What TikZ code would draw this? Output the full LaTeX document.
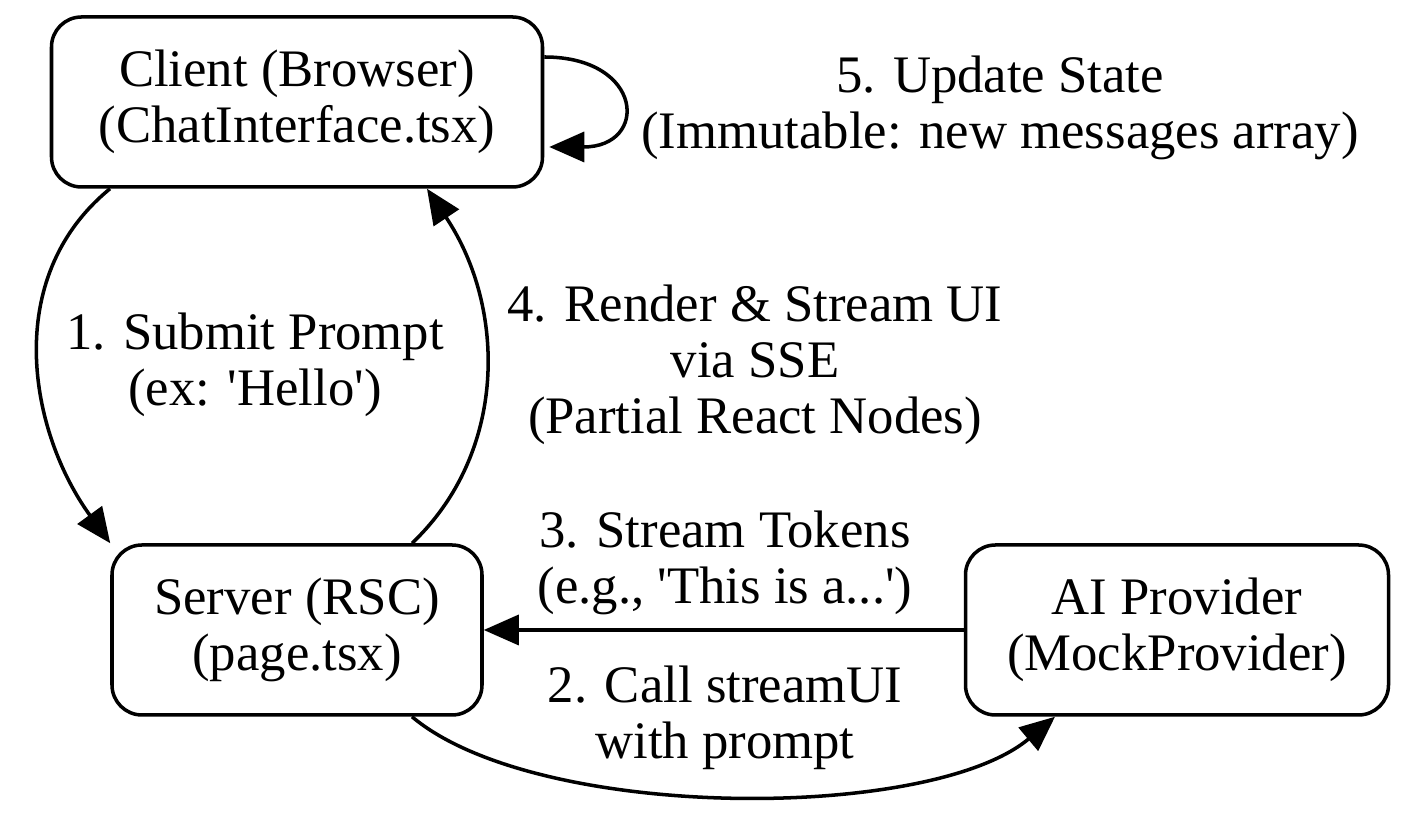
\documentclass[tikz,border=0pt]{standalone}
\usepackage{fontspec}
\setmainfont{Liberation Serif}
\usetikzlibrary{arrows.meta}
\begin{document}
\begin{tikzpicture}[
                            >={Triangle[length=0.7cm,width=0.6cm]},
                            every node/.style={font=\fontsize{30}{32}\selectfont,align=center},
                            box/.style={rectangle,draw,line width=2pt,rounded corners=0.6cm,minimum height=3.4cm},
                            link/.style={->,line width=2pt}
                        ]
                        \useasboundingbox (0,0) rectangle (28.34,16.26);
                        % Blocks
                        \node [box,minimum width=9.82cm] (client) at (5.94,14.22) {Client (Browser)\\(ChatInterface.tsx)};
                        \node [box,minimum width=7.4cm] (server) at (5.94,3.66) {Server (RSC)\\(page.tsx)};
                        \node [box,minimum width=8.46cm] (ai) at (23.54,3.66) {AI Provider\\(MockProvider)};

                        % Labels
                        \node (lab1) at (5.1,8.96) {1. Submit Prompt\\(ex: \textquotesingle Hello\textquotesingle)};
                        \node (lab2) at (14.5,1.9) {2. Call streamUI\\with prompt};
                        \node (lab3) at (14.5,5.0) {3. Stream Tokens\\(e.g., \textquotesingle This is a...\textquotesingle)};
                        \node (lab4) at (15.1,8.96) {4. Render \& Stream UI\\via SSE\\(Partial React Nodes)};
                        \node (lab5) at (20,14.1) {5. Update State\\(Immutable: new messages array)};

                        % Connections
                        \draw [link] ([xshift=-3.74cm]client.south) .. controls +(-2.2,-1.8) and +(-1.6,2.2) .. (server.north west);
                        \draw [link] ([xshift=2.3cm]server.south) .. controls +(2.5,-2.1) and +(-2.5,-2.1) .. ([xshift=-2.44cm]ai.south);
                        \draw [link] (ai.west) -- (server.east);
                        \draw [link] ([xshift=2.3cm]server.north) .. controls +(1.9,1.8) and +(1.6,-2.4) .. ([xshift=2.6cm]client.south);
                        \draw [link] ([yshift=0.9cm]client.east) .. controls +(2,0) and +(2,0) .. ([yshift=-0.9cm,xshift=0.1cm]client.east);
                    \end{tikzpicture}
\end{document}
